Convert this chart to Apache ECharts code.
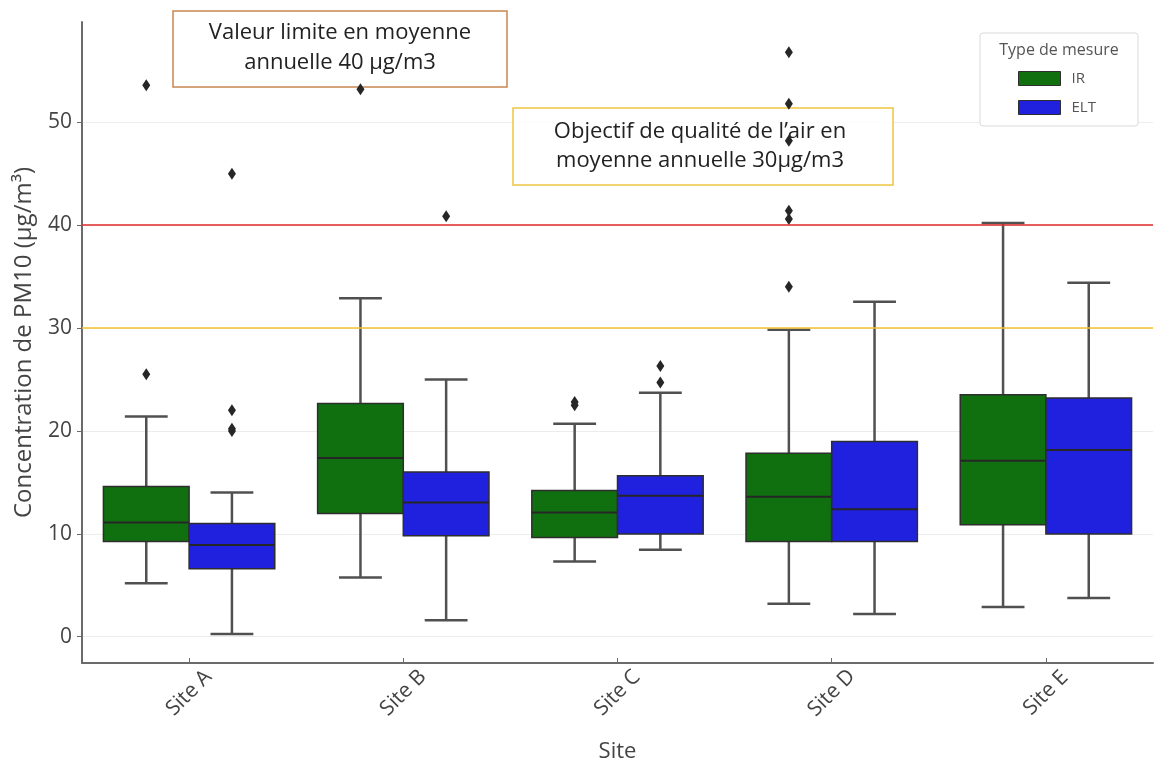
<!DOCTYPE html>
<html>
<head>
<meta charset="utf-8">
<script src="https://cdn.jsdelivr.net/npm/echarts@6/dist/echarts.min.js"></script>
<style>
  html, body { margin: 0; padding: 0; background: #fff; }
  #chart { width: 1156px; height: 767px; }
</style>
</head>
<body>
<div id="chart"></div>
<script>
const sites = ['Site A', 'Site B', 'Site C', 'Site D', 'Site E'];
const yTicks = [0, 10, 20, 30, 40, 50];

// [whisker bas, Q1, médiane, Q3, whisker haut]
const irBoxes = [
  [5.2, 9.25, 11.1, 14.6, 21.4],
  [5.75, 11.97, 17.37, 22.65, 32.9],
  [7.3, 9.64, 12.07, 14.2, 20.7],
  [3.2, 9.25, 13.6, 17.83, 29.84],
  [2.88, 10.87, 17.1, 23.5, 40.2]
];
const eltBoxes = [
  [0.25, 6.6, 8.9, 11.0, 14.0],
  [1.6, 9.8, 13.05, 16.0, 25.0],
  [8.45, 9.97, 13.69, 15.63, 23.7],
  [2.2, 9.25, 12.39, 18.96, 32.56],
  [3.75, 9.97, 18.15, 23.2, 34.4]
];
// [index du site, valeur]
const irOutliers = [[0, 25.5], [0, 53.6], [1, 53.2], [2, 22.5], [2, 22.8], [3, 34.0], [3, 40.6], [3, 41.4], [3, 48.2], [3, 51.8], [3, 56.8]];
const eltOutliers = [[0, 20.0], [0, 20.2], [0, 22.0], [0, 45.0], [1, 40.85], [2, 24.7], [2, 26.3]];

const limitValue = 40;
const objectiveValue = 30;

const greenColor = '#107010';
const blueColor = '#2020df';
const lineColor = '#505050';

const chart = echarts.init(document.getElementById('chart'));

function boxRenderer(side, fill) {
  return function (params, api) {
    const cat = api.value(0);
    const band = api.size([1, 0])[0];
    const w = band * 0.4;
    const cx = api.coord([cat, 0])[0] + side * w / 2;
    const y = (i) => api.coord([cat, api.value(i)])[1];
    const lo = y(1), q1 = y(2), med = y(3), q3 = y(4), hi = y(5);
    const cap = w * 0.25;
    const line = (x1, y1, x2, y2, width) => ({
      type: 'line',
      shape: { x1: x1, y1: y1, x2: x2, y2: y2 },
      style: { stroke: lineColor, lineWidth: width }
    });
    return {
      type: 'group',
      children: [
        line(cx, hi, cx, q3, 2.5),
        line(cx, q1, cx, lo, 2.5),
        line(cx - cap, hi, cx + cap, hi, 2.5),
        line(cx - cap, lo, cx + cap, lo, 2.5),
        {
          type: 'rect',
          shape: { x: cx - w / 2, y: q3, width: w, height: q1 - q3 },
          style: { fill: fill, stroke: '#2e2e2e', lineWidth: 1.5 }
        },
        {
          type: 'line',
          shape: { x1: cx - w / 2, y1: med, x2: cx + w / 2, y2: med },
          style: { stroke: '#262626', lineWidth: 2 }
        }
      ]
    };
  };
}

function outlierRenderer(side) {
  return function (params, api) {
    const cat = api.value(0);
    const band = api.size([1, 0])[0];
    const w = band * 0.4;
    const p = api.coord([cat, api.value(1)]);
    const cx = p[0] + side * w / 2, cy = p[1];
    return {
      type: 'polygon',
      shape: { points: [[cx, cy - 6], [cx + 4, cy], [cx, cy + 6], [cx - 4, cy]] },
      style: { fill: '#262626' }
    };
  };
}

const option = {
  animation: false,
  textStyle: { fontFamily: 'Open Sans' },
  grid: { left: 82, right: 3, top: 22, bottom: 104, outerBoundsMode: 'none' },
  legend: {
    orient: 'vertical',
    left: 1018,
    top: 71,
    itemWidth: 42,
    itemHeight: 14,
    itemGap: 14,
    padding: 0,
    textStyle: { fontSize: 15, color: '#555', padding: [0, 0, 0, 6] },
    data: [
      { name: 'IR', icon: 'rect', itemStyle: { color: greenColor, borderColor: '#2e2e2e', borderWidth: 1 } },
      { name: 'ELT', icon: 'rect', itemStyle: { color: blueColor, borderColor: '#2e2e2e', borderWidth: 1 } }
    ],
    z: 10
  },
  graphic: [
    {
      type: 'rect', z: 5,
      shape: { x: 980, y: 33, width: 158, height: 93, r: 3 },
      style: { fill: '#fff', stroke: '#d9d9d9', lineWidth: 1 }
    },
    {
      type: 'text', z: 6, x: 1059, y: 50,
      style: { text: 'Type de mesure', fill: '#555', font: '16px "Open Sans"', align: 'center', verticalAlign: 'middle' }
    },
    {
      type: 'rect', z: 1,
      shape: { x: 173, y: 11, width: 334, height: 76 },
      style: { fill: 'rgba(255,255,255,0.85)', stroke: '#c9864f', lineWidth: 1.5 }
    },
    {
      type: 'text', z: 1, x: 340, y: 48,
      style: { text: 'Valeur limite en moyenne\nannuelle 40 µg/m3', fill: '#222', font: '22px "Open Sans"', lineHeight: 30, align: 'center', verticalAlign: 'middle' }
    },
    {
      type: 'rect', z: 1,
      shape: { x: 513, y: 108, width: 380, height: 77 },
      style: { fill: 'rgba(255,255,255,0.85)', stroke: '#edc542', lineWidth: 1.5 }
    },
    {
      type: 'text', z: 1, x: 700, y: 146,
      style: { text: 'Objectif de qualité de l’air en\nmoyenne annuelle 30µg/m3', fill: '#222', font: '22px "Open Sans"', lineHeight: 29, align: 'center', verticalAlign: 'middle' }
    }
  ],
  xAxis: {
    type: 'category',
    data: sites,
    name: 'Site',
    nameLocation: 'middle',
    nameGap: 78,
    nameMoveOverlap: false,
    nameTextStyle: { fontSize: 22, color: '#444' },
    axisLine: { onZero: false, lineStyle: { color: '#6b6b6b', width: 2 } },
    axisTick: { show: true, inside: true, length: 5, alignWithLabel: true, lineStyle: { color: '#6b6b6b' } },
    axisLabel: { rotate: 45, align: 'center', verticalAlign: 'middle', margin: 30, fontSize: 21, color: '#444' },
    splitLine: { show: false }
  },
  yAxis: {
    type: 'value',
    min: -2.56,
    max: 59.74,
    name: 'Concentration de PM10 (µg/m³)',
    nameLocation: 'middle',
    nameGap: 46,
    nameMoveOverlap: false,
    nameTextStyle: { fontSize: 24, color: '#444' },
    axisLine: { show: true, lineStyle: { color: '#6b6b6b', width: 2 } },
    axisTick: { show: true, length: 5, customValues: yTicks, lineStyle: { color: '#6b6b6b' } },
    axisLabel: { customValues: yTicks, fontSize: 21, color: '#444', margin: 10 },
    splitLine: { show: true, lineStyle: { color: '#ececec', width: 1 } }
  },
  series: [
    {
      name: 'limits',
      type: 'line',
      data: [],
      silent: true,
      markLine: {
        silent: true,
        symbol: 'none',
        label: { show: false },
        data: [
          { yAxis: limitValue, lineStyle: { color: '#e02a2a', width: 1.5, type: 'solid' } },
          { yAxis: objectiveValue, lineStyle: { color: '#f2c12e', width: 1.5, type: 'solid' } }
        ]
      }
    },
    {
      name: 'IR', type: 'custom', z: 3,
      itemStyle: { color: greenColor },
      renderItem: boxRenderer(-1, greenColor),
      encode: { x: 0, y: [1, 2, 3, 4, 5] },
      data: irBoxes.map((b, i) => [i].concat(b))
    },
    {
      name: 'ELT', type: 'custom', z: 3,
      itemStyle: { color: blueColor },
      renderItem: boxRenderer(1, blueColor),
      encode: { x: 0, y: [1, 2, 3, 4, 5] },
      data: eltBoxes.map((b, i) => [i].concat(b))
    },
    {
      name: 'IR', type: 'custom', z: 4,
      itemStyle: { color: greenColor },
      renderItem: outlierRenderer(-1),
      encode: { x: 0, y: 1 },
      data: irOutliers
    },
    {
      name: 'ELT', type: 'custom', z: 4,
      itemStyle: { color: blueColor },
      renderItem: outlierRenderer(1),
      encode: { x: 0, y: 1 },
      data: eltOutliers
    }
  ]
};

chart.setOption(option);
</script>
</body>
</html>
